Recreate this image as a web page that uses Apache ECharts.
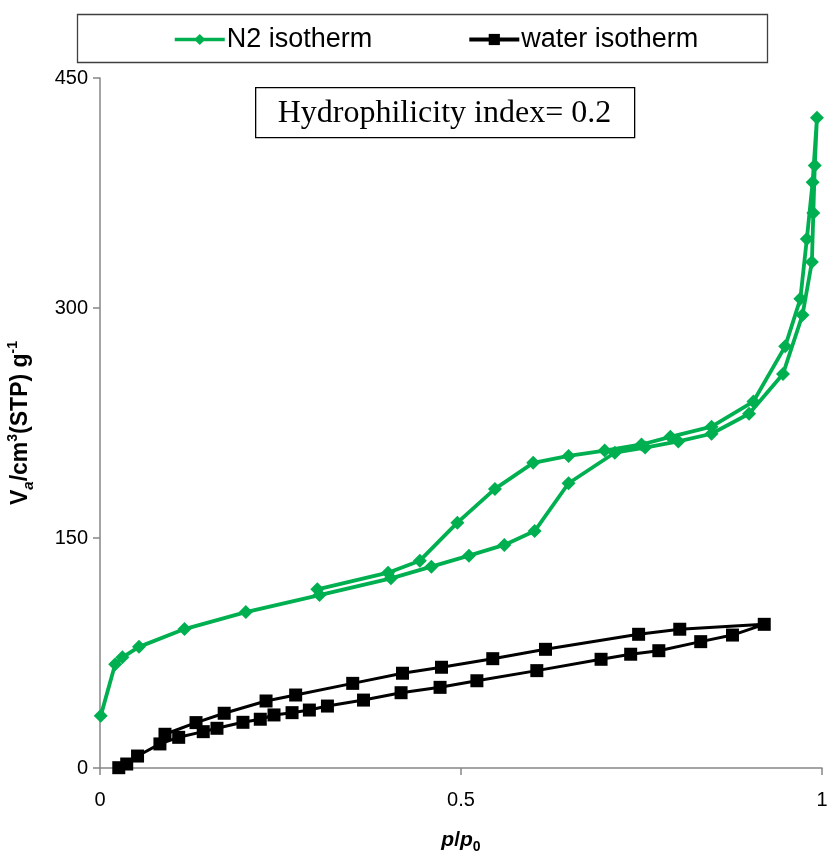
<!DOCTYPE html>
<html>
<head>
<meta charset="utf-8">
<script src="https://cdn.jsdelivr.net/npm/echarts@6/dist/echarts.min.js"></script>
<style>
  html, body { margin: 0; padding: 0; background: #fff; }
  #chart { width: 827px; height: 855px; }
</style>
</head>
<body>
<div id="chart"></div>
<script>
// N2 isotherm: adsorption branch then desorption branch, [p/p0, Va]
const n2Adsorption = [
  [0.001, 34], [0.021, 67.6], [0.031, 72.2], [0.054, 79], [0.117, 90.6],
  [0.202, 101.7], [0.304, 112.8], [0.403, 123.7], [0.459, 131.3], [0.511, 138.5],
  [0.560, 145.5], [0.602, 154.5], [0.649, 185.7], [0.713, 205.6], [0.755, 209],
  [0.801, 213], [0.847, 218], [0.899, 231], [0.946, 257], [0.973, 295.5],
  [0.986, 330], [0.988, 362], [0.990, 393], [0.993, 424]
];
const n2Desorption = [
  [0.987, 382], [0.979, 345], [0.970, 306], [0.949, 275], [0.905, 239],
  [0.847, 222.6], [0.790, 216], [0.750, 211], [0.699, 207], [0.649, 203.5],
  [0.600, 199], [0.547, 182], [0.495, 160], [0.443, 135.2], [0.399, 127.4],
  [0.301, 116.5]
];

// Water isotherm: adsorption branch then desorption branch, [p/p0, Va]
const waterAdsorption = [
  [0.026, 0.2], [0.037, 2.6], [0.052, 7.8], [0.083, 15.7], [0.109, 20.0],
  [0.143, 23.7], [0.162, 25.9], [0.198, 29.8], [0.222, 31.8], [0.241, 34.6],
  [0.266, 36.1], [0.290, 37.8], [0.315, 40.4], [0.365, 44.3], [0.417, 49.1],
  [0.471, 52.6], [0.522, 56.9], [0.605, 63.5], [0.694, 70.9], [0.735, 74.2],
  [0.774, 76.5], [0.832, 82.4], [0.876, 86.7], [0.920, 93.7]
];
const waterDesorption = [
  [0.803, 90.5], [0.746, 87.2], [0.617, 77.4], [0.544, 71.3], [0.473, 65.7],
  [0.419, 61.8], [0.350, 55.2], [0.271, 47.6], [0.230, 43.7], [0.172, 35.7],
  [0.133, 29.6], [0.090, 22.0]
];

const seriesNames = ['N2 isotherm', 'water isotherm'];
const xTicks = { min: 0, max: 1, step: 0.5 };
const yTicks = { min: 0, max: 450, step: 150 };
const annotationText = 'Hydrophilicity index= 0.2';

const SANS = '"Liberation Sans", Arial, sans-serif';
const SERIF = '"Liberation Serif", "Times New Roman", serif';
const GREEN = '#00B050';
const AXIS_GREY = '#868686';

const chart = echarts.init(document.getElementById('chart'), null, { renderer: 'canvas' });

chart.setOption({
  backgroundColor: '#ffffff',
  animation: false,
  grid: { left: 100, right: 5, top: 78, bottom: 87, containLabel: false, outerBoundsMode: 'none' },
  legend: {
    data: [
      { name: seriesNames[0], lineStyle: { width: 3.5 } },
      { name: seriesNames[1], lineStyle: { width: 4 } }
    ],
    left: 168,
    top: 21,
    itemWidth: 50,
    itemHeight: 14,
    itemGap: 95,
    textStyle: { fontFamily: SANS, fontSize: 27, color: '#000', padding: [0, 0, 0, -3] }
  },
  graphic: [
    {
      type: 'rect',
      left: 75, top: 12,
      shape: { width: 690, height: 48 },
      style: { fill: 'none', stroke: '#404040', lineWidth: 1.3 },
      z: 0
    },
    {
      type: 'group',
      left: 255, top: 87,
      children: [
        {
          type: 'rect',
          shape: { x: 0, y: 0, width: 379, height: 50 },
          style: { fill: '#fff', stroke: '#000', lineWidth: 1.3 }
        },
        {
          type: 'text',
          x: 22, y: 26,
          style: {
            text: annotationText,
            font: '32px ' + SERIF,
            fill: '#000',
            verticalAlign: 'middle'
          }
        }
      ],
      z: 10
    }
  ],
  xAxis: {
    type: 'value',
    min: xTicks.min, max: xTicks.max, interval: xTicks.step,
    splitLine: { show: false },
    axisLine: { show: true, lineStyle: { color: AXIS_GREY, width: 1.5 } },
    axisTick: { show: true, inside: false, length: 7, lineStyle: { color: AXIS_GREY, width: 1.5 } },
    axisLabel: {
      margin: 22, fontFamily: SANS, fontSize: 20, color: '#000',
      formatter: v => String(v)
    },
    name: '{bi|p}{b|/}{bi|p}{sub|0}',
    nameLocation: 'middle',
    nameGap: 58,
    nameTextStyle: {
      rich: {
        bi: { fontFamily: SANS, fontSize: 21, fontWeight: 'bold', fontStyle: 'italic', color: '#000', lineHeight: 28, verticalAlign: 'middle' },
        b: { fontFamily: SANS, fontSize: 21, fontWeight: 'bold', color: '#000', lineHeight: 28, verticalAlign: 'middle' },
        sub: { fontFamily: SANS, fontSize: 14, fontWeight: 'bold', color: '#000', lineHeight: 28, verticalAlign: 'bottom' }
      }
    }
  },
  yAxis: {
    type: 'value',
    min: yTicks.min, max: yTicks.max, interval: yTicks.step,
    splitLine: { show: false },
    axisLine: { show: true, lineStyle: { color: AXIS_GREY, width: 1.5 } },
    axisTick: { show: true, inside: false, length: 7, lineStyle: { color: AXIS_GREY, width: 1.5 } },
    axisLabel: { margin: 12, fontFamily: SANS, fontSize: 20, color: '#000' },
    name: '{b|V}{si|a}{b|/cm}{sup|3}{b|(STP) g}{sup|-1}',
    nameLocation: 'middle',
    nameRotate: 90,
    nameGap: 64,
    nameTextStyle: {
      rich: {
        b: { fontFamily: SANS, fontSize: 23, fontWeight: 'bold', color: '#000', lineHeight: 30, verticalAlign: 'middle' },
        si: { fontFamily: SANS, fontSize: 15, fontWeight: 'bold', fontStyle: 'italic', color: '#000', lineHeight: 30, verticalAlign: 'bottom' },
        sup: { fontFamily: SANS, fontSize: 14, fontWeight: 'bold', color: '#000', lineHeight: 30, verticalAlign: 'top' }
      }
    }
  },
  series: [
    {
      name: seriesNames[0],
      type: 'line',
      data: n2Adsorption.concat(n2Desorption),
      symbol: 'diamond',
      symbolSize: 14,
      clip: false,
      lineStyle: { color: GREEN, width: 3.8 },
      itemStyle: { color: GREEN },
      z: 3
    },
    {
      name: seriesNames[1],
      type: 'line',
      data: waterAdsorption.concat(waterDesorption),
      symbol: 'rect',
      symbolSize: 13,
      clip: false,
      lineStyle: { color: '#000', width: 3 },
      itemStyle: { color: '#000' },
      z: 4
    }
  ]
});
</script>
</body>
</html>
